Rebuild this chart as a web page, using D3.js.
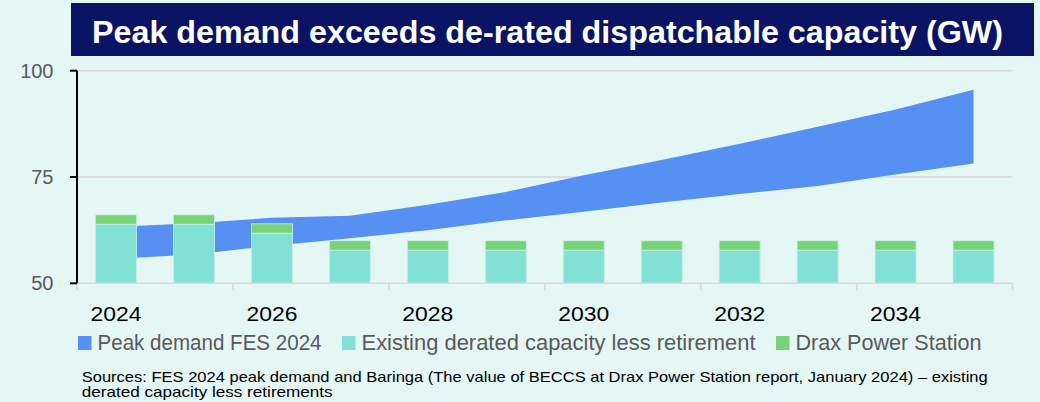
<!DOCTYPE html>
<html>
<head>
<meta charset="utf-8">
<script src="https://cdn.jsdelivr.net/npm/d3@7"></script>
<style>
  body { margin: 0; background: #e4f7f4; }
  svg { display: block; }
</style>
</head>
<body>
<svg id="chart" width="1040" height="402"></svg>
<script>
// values (GW)
let years = ["2024","2025","2026","2027","2028","2029","2030","2031","2032","2033","2034","2035"];
let existing = [63.9, 63.9, 61.8, 57.8, 57.8, 57.8, 57.8, 57.8, 57.8, 57.8, 57.8, 57.8];
let drax = [2.2, 2.2, 2.2, 2.2, 2.2, 2.2, 2.2, 2.2, 2.2, 2.2, 2.2, 2.2];
let demandLow = [55.8, 56.8, 58.8, 60.6, 62.5, 64.8, 66.8, 69.0, 71.0, 72.9, 75.6, 78.2];
let demandHigh = [63.3, 64.1, 65.4, 65.9, 68.5, 71.5, 75.4, 79.0, 82.8, 86.8, 90.9, 95.5];
let yTicks = [50, 75, 100];
let xLabels = ["2024","2026","2028","2030","2032","2034"];
let legendItems = [
    {name: "Peak demand FES 2024", color: "#5590f2", x: 78, w: 224},
    {name: "Existing derated capacity less retirement", color: "#81e1d5", x: 342, w: 394},
    {name: "Drax Power Station", color: "#78d277", x: 776, w: 186}
];

let svg = d3.select("#chart");
let font = "'Liberation Sans', Arial, sans-serif";

svg.append("rect").attr("width", 1040).attr("height", 402).attr("fill", "#e4f7f4");

// title banner
svg.append("rect").attr("x", 71).attr("y", 3).attr("width", 963).attr("height", 53).attr("fill", "#0b1464");
svg.append("text").text("Peak demand exceeds de-rated dispatchable capacity (GW)")
    .attr("x", 92).attr("y", 42.5).attr("fill", "white")
    .attr("font-family", font).attr("font-weight", "bold").attr("font-size", 31.5)
    .attr("textLength", 911).attr("lengthAdjust", "spacingAndGlyphs");

let xScale = d3.scaleBand().domain(years).range([77, 1012.5]).paddingInner(0.474).paddingOuter(0.237);
let xPoint = d => xScale(d) + xScale.bandwidth() / 2;
let yScale = d3.scaleLinear().domain([50, 100]).range([283.3, 70.7]);

// gridlines
svg.append("g").selectAll("line").data(yTicks.filter(t => t > 50)).enter().append("line")
    .attr("x1", 77).attr("x2", 1012.5)
    .attr("y1", d => yScale(d)).attr("y2", d => yScale(d))
    .attr("stroke", "#d9d9d9").attr("stroke-width", 1.5);

// peak demand band, drawn behind the bars like excel does
let band = years.map((y, i) => ({year: y, lo: demandLow[i], hi: demandHigh[i]}));
let area = d3.area().x(d => xPoint(d.year)).y0(d => yScale(d.lo)).y1(d => yScale(d.hi));
svg.append("path").datum(band).attr("d", area).attr("fill", "#5590f2");

// stacked bars
let barData = years.map((y, i) => ({year: y, existing: existing[i], drax: drax[i]}));
let stack = d3.stack().keys(["existing", "drax"]);
let series = stack(barData);
let barColor = {existing: "#81e1d5", drax: "#78d277"};
svg.append("g").selectAll("g").data(series).enter().append("g")
    .attr("fill", d => barColor[d.key])
    .selectAll("rect").data(d => d).enter().append("rect")
    .attr("x", d => xScale(d.data.year))
    .attr("width", xScale.bandwidth())
    .attr("y", d => yScale(Math.max(d[1], 50)))
    .attr("height", d => yScale(Math.max(d[0], 50)) - yScale(Math.max(d[1], 50)))
    .attr("stroke", "#c4f1ea").attr("stroke-width", 0.8);

// x axis (category, tick every two years)
let xAxis = svg.append("g");
xAxis.append("line").attr("x1", 77).attr("x2", 1012.5).attr("y1", 283.3).attr("y2", 283.3)
    .attr("stroke", "#d9d9d9").attr("stroke-width", 1.5);
let tickYears = years.filter((d, i) => i % 2 === 0);
let tickX = tickYears.map(d => xScale(d) - xScale.step() * xScale.paddingOuter()).concat([1012.5]);
xAxis.selectAll(".tk").data(tickX).enter().append("line").attr("class", "tk")
    .attr("x1", d => d).attr("x2", d => d).attr("y1", 283.3).attr("y2", 290)
    .attr("stroke", "#d9d9d9").attr("stroke-width", 1.5);
xAxis.selectAll("text").data(xLabels).enter().append("text").text(d => d)
    .attr("x", d => xPoint(d)).attr("y", 320.5).attr("text-anchor", "middle")
    .attr("font-family", font).attr("font-size", 21).attr("fill", "#000")
    .attr("textLength", 51).attr("lengthAdjust", "spacingAndGlyphs");

// y axis
let yAxis = svg.append("g");
yAxis.append("line").attr("x1", 77).attr("x2", 77).attr("y1", yScale(100)).attr("y2", yScale(50))
    .attr("stroke", "#000").attr("stroke-width", 2);
yAxis.selectAll(".tk").data(yTicks).enter().append("line").attr("class", "tk")
    .attr("x1", 70).attr("x2", 77).attr("y1", d => yScale(d)).attr("y2", d => yScale(d))
    .attr("stroke", "#000").attr("stroke-width", 2);
yAxis.selectAll("text").data(yTicks).enter().append("text").text(d => d)
    .attr("x", 53.5).attr("y", d => yScale(d) + 7).attr("text-anchor", "end")
    .attr("font-family", font).attr("font-size", 20).attr("fill", "#595959");

// legend
let legend = svg.append("g").selectAll("g").data(legendItems).enter().append("g");
legend.append("rect").attr("x", d => d.x).attr("y", 336).attr("width", 13.5).attr("height", 14)
    .attr("fill", d => d.color);
legend.append("text").text(d => d.name)
    .attr("x", d => d.x + 19.5).attr("y", 350)
    .attr("font-family", font).attr("font-size", 21.5).attr("fill", "#595959")
    .attr("textLength", d => d.w).attr("lengthAdjust", "spacingAndGlyphs");

// sources note
let notes = [
    {t: "Sources: FES 2024 peak demand and Baringa (The value of BECCS at Drax Power Station report, January 2024) \u2013 existing", y: 382, w: 906},
    {t: "derated capacity less retirements", y: 396.5, w: 251}
];
svg.append("g").selectAll("text").data(notes).enter().append("text").text(d => d.t)
    .attr("x", 81.7).attr("y", d => d.y)
    .attr("font-family", font).attr("font-size", 14.2).attr("fill", "#000")
    .attr("textLength", d => d.w).attr("lengthAdjust", "spacingAndGlyphs");
</script>
</body>
</html>
